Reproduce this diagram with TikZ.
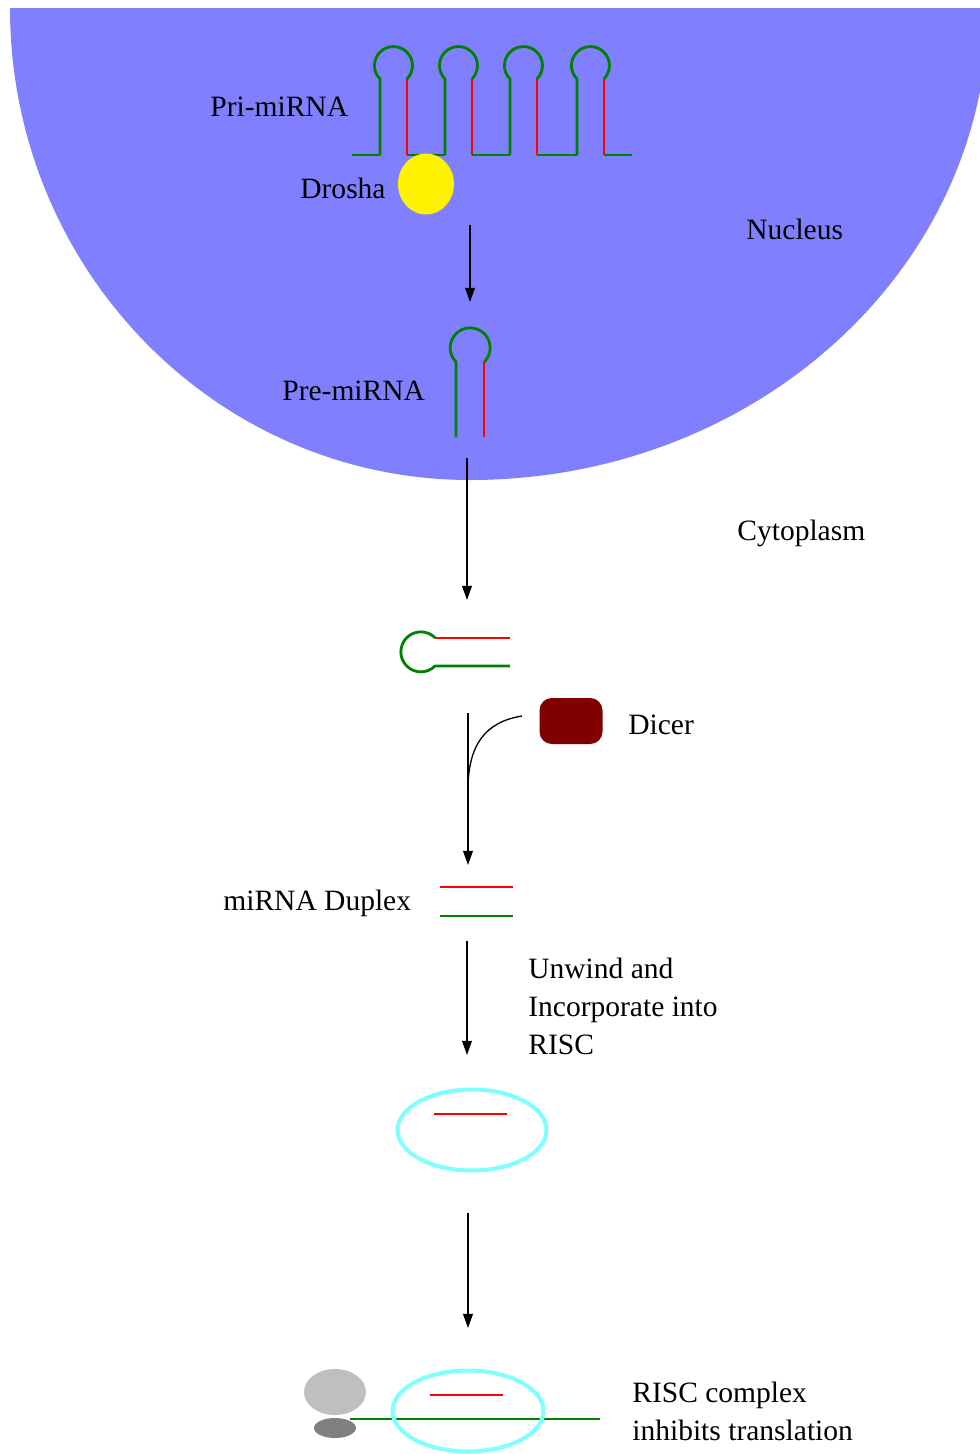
\documentclass[tikz,border=0pt]{standalone}
\usepackage{fontspec}
\setmainfont{Liberation Serif}
\usetikzlibrary{arrows.meta,shapes.geometric}
\definecolor{nucblue}{HTML}{8080FF}
\definecolor{rnagreen}{HTML}{008000}
\definecolor{rnared}{HTML}{FF0000}
\definecolor{dicercol}{HTML}{800000}
\definecolor{risccol}{HTML}{80FFFF}
\begin{document}
\begin{tikzpicture}[x=0.02cm,y=-0.02cm,
  lbl/.style={inner sep=0pt,anchor=base west,font=\fontsize{16.8}{21.5}\selectfont},
  lbl2/.style={lbl,align=left,anchor=north west},
  gstrand/.style={draw=rnagreen,line width=1.6pt},
  gthin/.style={draw=rnagreen,line width=1.2pt},
  rstrand/.style={draw=rnared,line width=1.1pt},
  flow/.style={draw=black,line width=0.85pt,-{Triangle[length=8pt,width=5.5pt]}},
  riscring/.style={ellipse,draw=risccol,line width=2.3pt,inner sep=0pt}
]
\useasboundingbox (0,0) rectangle (980,1454);
\fill[white] (0,0) rectangle (980,1454);

% nucleus: a bowl, flat at the top, a little wider on the right
\begin{scope}
  \clip (0,0) rectangle (980,1454);
  \fill[nucblue] (10,8) .. controls (10,268.7) and (216,480) .. (470,480)
                        .. controls (756,480) and (988,268.7) .. (988,8) -- cycle;
\end{scope}

% pri-miRNA: four hairpins on one strand
\foreach \s in {380,445,510,577}{
  \draw[gstrand] (\s,155) -- (\s,79) arc[start angle=135,end angle=405,radius=19];
  \draw[rstrand] (\s+27,79) -- (\s+27,155);
}
\draw[gthin] (352,155) -- (380,155);
\draw[gthin] (407,155) -- (445,155);
\draw[gthin] (472,155) -- (510,155);
\draw[gthin] (537,155) -- (577,155);
\draw[gthin] (604,155) -- (632,155);

% Drosha
\node[ellipse,fill=yellow,inner sep=0pt,minimum width=1.12cm,minimum height=1.22cm] (drosha) at (426,184) {};

\node[lbl] (pri) at (210,116) {Pri-miRNA};
\node[lbl] (droshalbl) at (300,198) {Drosha};
\node[lbl] (nuc) at (746,239) {Nucleus};

% pre-miRNA hairpin
\draw[gstrand] (456,437) -- (456,362) arc[start angle=135,end angle=405,radius=20];
\draw[rstrand] (484.3,362) -- (484.3,437);
\node[lbl] (pre) at (282,400) {Pre-miRNA};

% exported hairpin, lying on its side
\draw[gstrand] (510,666) -- (435,666) arc[start angle=45,end angle=315,radius=20];
\draw[rstrand] (435,637.7) -- (510,637.7);

\node[lbl] (cyto) at (737,540) {Cytoplasm};

% Dicer
\node[fill=dicercol,rounded corners=7pt,minimum width=1.26cm,minimum height=0.92cm,inner sep=0pt] (dicer) at (571,721) {};
\node[lbl] (dicerlbl) at (628,734) {Dicer};

% miRNA duplex
\draw[rstrand] (440,887) -- (513,887);
\draw[gstrand] (440,916) -- (513,916);
\node[lbl] (duplex) at (223,910) {miRNA Duplex};

\node[lbl2] (unwind) at (528,958) {Unwind and\\Incorporate into\\RISC};

% RISC loaded with the guide strand
\node[riscring,minimum width=2.98cm,minimum height=1.62cm] (risc1) at (472,1130) {};
\draw[rstrand] (434,1114) -- (507,1114);

% RISC on the target mRNA, with the ribosome
\node[ellipse,fill=black!25,minimum width=1.24cm,minimum height=0.92cm,inner sep=0pt] (ribo1) at (335,1392) {};
\node[ellipse,fill=black!50,minimum width=0.84cm,minimum height=0.4cm,inner sep=0pt] (ribo2) at (335,1428) {};
\coordinate (mrnaL) at (350,1419);
\coordinate (mrnaR) at (600,1419);
\draw[draw=rnagreen,line width=0.9pt] (mrnaL) -- (mrnaR);
\node[riscring,minimum width=3.02cm,minimum height=1.62cm] (risc2) at (468,1411) {};
\draw[rstrand] (430,1395) -- (503,1395);
\node[lbl2] (inhib) at (632,1382) {RISC complex\\inhibits translation};

% pathway arrows
\coordinate (a1s) at (470,225);  \coordinate (a1e) at (470,302);
\coordinate (a2s) at (467,458);  \coordinate (a2e) at (467,600);
\coordinate (a3s) at (468,713);  \coordinate (a3e) at (468,865);
\coordinate (a4s) at (467,941);  \coordinate (a4e) at (467,1055);
\coordinate (a5s) at (468,1213); \coordinate (a5e) at (468,1328);
\coordinate (dcs) at (522,716);  \coordinate (dce) at (468,790);
\draw[flow] (a1s) -- (a1e);
\draw[flow] (a2s) -- (a2e);
\draw[flow] (a3s) -- (a3e);
\draw[flow] (a4s) -- (a4e);
\draw[flow] (a5s) -- (a5e);
\draw[line width=0.75pt] (dcs) .. controls (485,722) and (468,745) .. (dce);
\end{tikzpicture}
\end{document}
